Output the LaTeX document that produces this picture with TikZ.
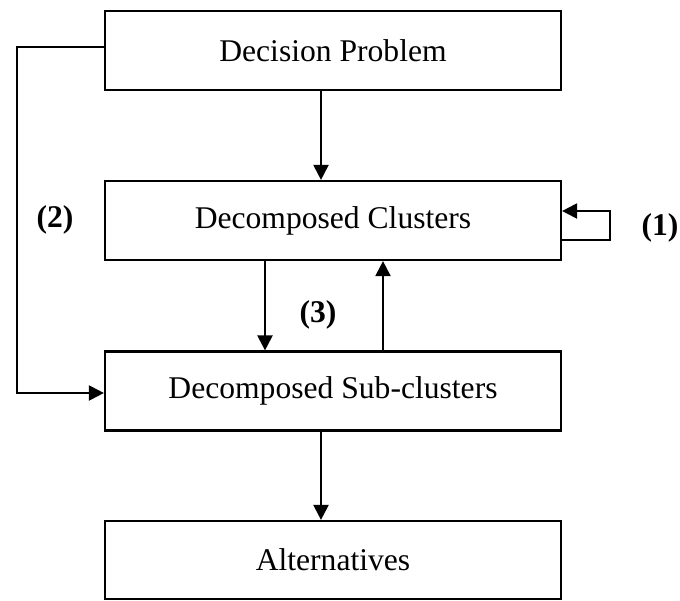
\documentclass[tikz,border=0pt]{standalone}
\usepackage{fontspec}
\setmainfont{Liberation Serif}
\usetikzlibrary{arrows.meta}
\begin{document}
\begin{tikzpicture}[x=1pt,y=-1pt,
  box/.style={draw,line width=2.2pt,minimum width=456pt,minimum height=79pt,inner sep=0pt,
    font=\fontsize{31.6}{38}\selectfont},
  lbl/.style={font=\fontsize{31.6}{38}\selectfont\bfseries,inner sep=0pt},
  arr/.style={line width=2.2pt,-{Triangle[length=15pt,width=15pt]}},
  ln/.style={line width=2.2pt}]
\useasboundingbox (0,0) rectangle (680,600);
\node[box] (dp) at (333,50.5) {Decision Problem};
\node[box] (dc) at (333,220.5) {Decomposed Clusters};
\node[box] (ds) at (333,391) {Decomposed Sub-clusters};
\node[box,minimum height=78pt] (al) at (333,560) {Alternatives};
\node[lbl] (l2) at (55,220) {(2)};
\node[lbl] (l1) at (660,228) {(1)};
\node[lbl] (l3) at (318,315) {(3)};
\coordinate (c1) at (17,47);
\coordinate (c2) at (17,393);
\coordinate (r1) at (610,240);
\coordinate (r2) at (610,211);
\draw[arr] ([xshift=-12pt]dp.south) -- ([xshift=-12pt]dc.north);
\draw[arr] ([xshift=-68pt]dc.south) -- ([xshift=-68pt]ds.north);
\draw[arr] ([xshift=50pt]ds.north) -- ([xshift=50pt]dc.south);
\draw[arr] ([xshift=-12pt]ds.south) -- ([xshift=-12pt]al.north);
\draw[arr,line join=miter] (dp.west |- c1) -- (c1) -- (c2) -- (ds.west |- c2);
\draw[arr,line join=miter] (dc.east |- r1) -- (r1) -- (r2) -- (dc.east |- r2);
\end{tikzpicture}
\end{document}
